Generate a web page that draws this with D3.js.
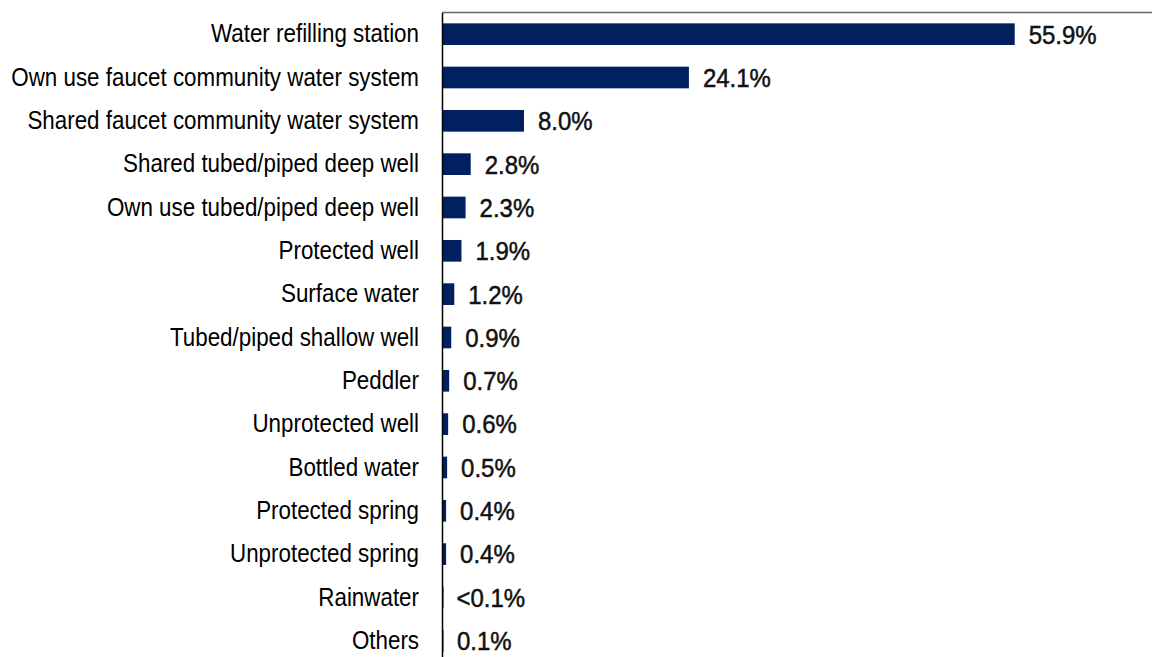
<!DOCTYPE html>
<html>
<head>
<meta charset="utf-8">
<script src="https://cdn.jsdelivr.net/npm/d3@7"></script>
<style>
  body { margin: 0; background: #fff; }
  svg { display: block; }
</style>
</head>
<body>
<svg id="chart"></svg>
<script>
// water sources, share of households (%)
const categories = [
  "Water refilling station",
  "Own use faucet community water system",
  "Shared faucet community water system",
  "Shared tubed/piped deep well",
  "Own use tubed/piped deep well",
  "Protected well",
  "Surface water",
  "Tubed/piped shallow well",
  "Peddler",
  "Unprotected well",
  "Bottled water",
  "Protected spring",
  "Unprotected spring",
  "Rainwater",
  "Others"
];
const values = [55.9, 24.1, 8.0, 2.8, 2.3, 1.9, 1.2, 0.9, 0.7, 0.6, 0.5, 0.4, 0.4, 0.05, 0.1];
const valueLabels = ["55.9%", "24.1%", "8.0%", "2.8%", "2.3%", "1.9%", "1.2%", "0.9%", "0.7%", "0.6%", "0.5%", "0.4%", "0.4%", "<0.1%", "0.1%"];

const W = 1152, H = 657;
const mLeft = 442, mTop = 12.5;
const svg = d3.select("#chart").attr("width", W).attr("height", H);

const x = d3.scaleLinear().domain([0, 60]).range([mLeft, mLeft + 614.7]);
const y = d3.scaleBand().domain(categories).range([mTop, mTop + 15 * 43.33]).paddingInner(0.5).paddingOuter(0.25);

// plot frame top line
svg.append("line")
  .attr("x1", mLeft).attr("x2", W)
  .attr("y1", mTop).attr("y2", mTop)
  .attr("stroke", "#666").attr("stroke-width", 1.5);

svg.selectAll(".bar")
  .data(values)
  .join("rect")
  .attr("class", "bar")
  .attr("x", x(0))
  .attr("y", (d, i) => y(categories[i]))
  .attr("width", d => Math.max(1.5, x(d) - x(0)))
  .attr("height", y.bandwidth())
  .attr("fill", "#002060");

// narrow font is not installed, so squeeze the regular one
function squeeze(sel, ratio) {
  sel.each(function () {
    const len = this.getComputedTextLength();
    d3.select(this).attr("textLength", len * ratio).attr("lengthAdjust", "spacingAndGlyphs");
  });
}

// left axis
const yAxis = d3.axisLeft(y).tickSize(0).tickPadding(23);
const ga = svg.append("g").attr("transform", `translate(${mLeft},0)`).call(yAxis);
ga.select(".domain").attr("stroke", "#000").attr("stroke-width", 1.5);
const ticks = ga.selectAll("text")
  .attr("font-family", "'Liberation Sans', Arial, sans-serif")
  .attr("font-size", 26)
  .attr("fill", "#000");
const catRatio = 208 / ticks.nodes()[0].getComputedTextLength();
squeeze(ticks, catRatio);

const vals = svg.selectAll(".val")
  .data(values)
  .join("text")
  .attr("class", "val")
  .attr("x", d => x(d) + 14)
  .attr("y", (d, i) => y(categories[i]) + y.bandwidth() / 2)
  .attr("dy", "0.36em")
  .attr("font-family", "'Liberation Sans', Arial, sans-serif")
  .attr("font-size", 26)
  .attr("fill", "#111")
  .attr("stroke", "#111").attr("stroke-width", 0.5)
  .text((d, i) => valueLabels[i]);
const valRatio = 68 / vals.nodes()[0].getComputedTextLength();
squeeze(vals, valRatio);
</script>
</body>
</html>
